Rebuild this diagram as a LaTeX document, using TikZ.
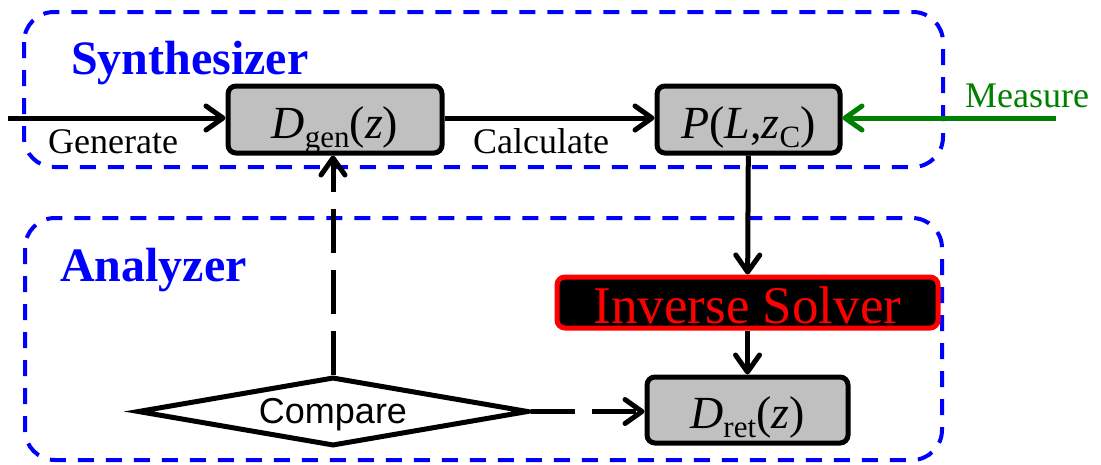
\documentclass[tikz,border=0pt]{standalone}
\usepackage{fontspec}
\setmainfont{Liberation Serif}
\setsansfont{Liberation Sans}
\usetikzlibrary{arrows.meta,shapes.geometric}
\definecolor{boxgray}{RGB}{192,192,192}
\definecolor{mgreen}{RGB}{0,128,0}
\newcommand{\mysub}[1]{\raisebox{-0.2em}{\fontsize{31}{31}\selectfont #1}}
\begin{document}
\begin{tikzpicture}[x=1pt,y=-1pt,
  group/.style={draw=blue, line width=4pt, dash pattern=on 16pt off 12pt, rounded corners=30pt},
  blk/.style={draw=black, fill=boxgray, line width=5pt, rounded corners=8pt, inner sep=0pt,
    text height=37pt, text depth=0pt, font=\fontsize{46}{46}\selectfont},
  arr/.style={line width=5pt, -{Straight Barb[length=17pt,width=24pt,round]}},
  dasharr/.style={arr, dash pattern=on 44pt off 17pt},
  grouptitle/.style={text=blue, font=\bfseries\fontsize{48}{48}\selectfont, inner sep=0pt, anchor=base west},
  lbl/.style={font=\fontsize{36}{36}\selectfont, inner sep=0pt, anchor=base west}]
\useasboundingbox (0,0) rectangle (1101,464);
% groups
\draw[group] (24,12) rectangle (943,167);
\draw[group] (25,218) rectangle (942,460);
\node[grouptitle] (syn) at (71,74) {Synthesizer};
\node[grouptitle] (ana) at (60,281) {Analyzer};
% boxes
\node[blk, minimum width=214pt, minimum height=67pt] (dgen) at (335,119.5)
  {\textit{D}\mysub{gen}(\textit{z})};
\node[blk, minimum width=183pt, minimum height=67pt] (P) at (748.5,119.5)
  {\textit{P}(\textit{L},\textit{z}\mysub{C})};
\node[draw=red, fill=black, line width=5pt, rounded corners=8pt, minimum width=381pt,
  minimum height=51pt, text=red, inner sep=0pt, font=\fontsize{53}{53}\selectfont,
  text height=41pt, text depth=0pt] (inv) at (747.5,302.5) {Inverse Solver};
\node[blk, minimum width=201pt, minimum height=66pt] (dret) at (747.5,410)
  {\textit{D}\mysub{ret}(\textit{z})};
\node[diamond, draw, fill=white, line width=5pt, minimum width=391pt, minimum height=69pt,
  shape aspect=5.67, inner sep=0pt, text height=26pt, text depth=2pt,
  font=\sffamily\fontsize{36}{36}\selectfont] (cmp) at (333,411.5) {Compare};
% free ends
\coordinate (in) at (8,118);
\coordinate (meas) at (1056,118);
% labels
\node[lbl] (gen) at (48,153) {Generate};
\node[lbl] (calc) at (473,153) {Calculate};
\node[lbl, text=mgreen] (mtxt) at (965,107) {Measure};
% connectors
\draw[arr] (in) -- (dgen.west |- in);
\draw[arr] (dgen.east |- in) -- (P.west |- in);
\draw[arr, draw=mgreen] (meas) -- (P.east |- meas);
\draw[arr] (P) -- (inv);
\draw[arr] (inv) -- (dret);
\draw[dasharr] (cmp.north) -- (cmp.north |- dgen.south);
\draw[dasharr] (cmp.east) -- (cmp.east -| dret.west);
\end{tikzpicture}
\end{document}
